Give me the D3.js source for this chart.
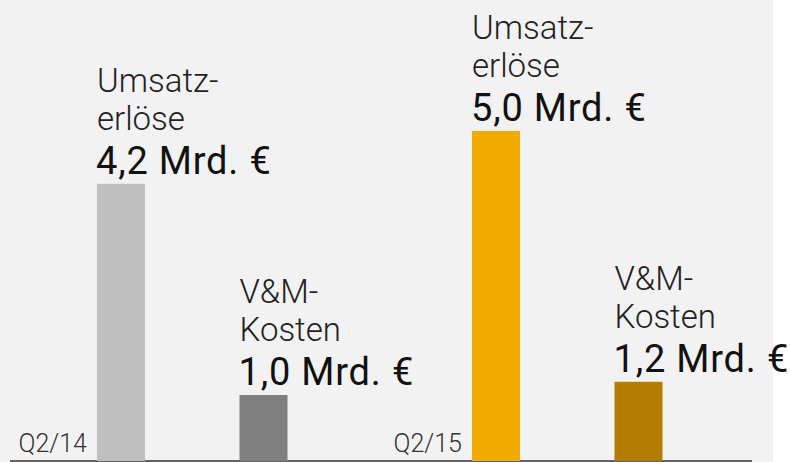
<!doctype html>
<html lang="de">
<head>
<meta charset="utf-8">
<style>
  body { margin: 0; background: #fff; }
  svg { display: block; }
  text { font-family: Roboto, "Open Sans", sans-serif; }
</style>
</head>
<body>
<div id="grafico"></div>
<script src="https://d3js.org/d3.v7.min.js"></script>
<script>

// Daten
var quartale = ["Q2/14", "Q2/15"];
var reihen = ["umsatz", "kosten"];
var beschriftung = [["Umsatz-", "erlöse"], ["V&M-", "Kosten"]];
var umsatz = [4.2, 5.0];
var kosten = [1.0, 1.2];
var farben = [["#bfbfbf", "#808080"], ["#f0aa00", "#b57d00"]];

var w = 790, h = 462;
var basis = 461;

var de = d3.formatLocale({decimal: ",", thousands: ".", grouping: [3], currency: ["", " €"]});
var fmt = de.format(".1f");

var daten = [];
quartale.forEach(function(q, i) {
  daten.push({q: q, reihe: "umsatz", wert: umsatz[i], label: beschriftung[0], farbe: farben[i][0]});
  daten.push({q: q, reihe: "kosten", wert: kosten[i], label: beschriftung[1], farbe: farben[i][1]});
});

var x0 = d3.scaleBand().domain(quartale).range([97, 847]).padding(0);
var x1 = d3.scaleBand().domain(reihen).range([0, 190.5]).paddingInner(0.663).paddingOuter(0);
var y = d3.scaleLinear().domain([0, 5]).range([basis, basis - 330]);

var svg = d3.select("#grafico").append("svg").attr("width", w).attr("height", h);

svg.append("rect").attr("x", 0).attr("y", 0).attr("width", 773).attr("height", h).attr("fill", "#f2f2f2");

// Grundlinie
svg.append("line").attr("x1", 10).attr("x2", 752).attr("y1", basis).attr("y2", basis)
  .attr("stroke", "#333").attr("stroke-width", 1.5);

// Quartal
svg.selectAll("text.quartal").data(quartale).enter().append("text")
  .attr("class", "quartal")
  .attr("x", function(d) { return x0(d) - 10; })
  .attr("y", 452)
  .attr("text-anchor", "end")
  .attr("fill", "#333")
  .style("font-size", "25px").style("font-weight", 300)
  .text(function(d) { return d; });

var gruppe = svg.selectAll("g.balken").data(daten).enter().append("g")
  .attr("class", "balken")
  .attr("transform", function(d) { return "translate(" + (x0(d.q) + x1(d.reihe)) + ",0)"; });

gruppe.append("rect")
  .attr("x", 0)
  .attr("y", function(d) { return y(d.wert); })
  .attr("width", x1.bandwidth())
  .attr("height", function(d) { return basis - y(d.wert); })
  .attr("fill", function(d) { return d.farbe; });

gruppe.append("text")
  .attr("x", -1)
  .attr("y", function(d) { return y(d.wert) - 10; })
  .attr("fill", "#111")
  .style("font-size", "38px").style("font-weight", 400).style("letter-spacing", "0.8px")
  .text(function(d) { return fmt(d.wert) + " Mrd. €"; });

gruppe.append("text")
  .attr("x", 0)
  .attr("y", function(d) { return y(d.wert) - 54; })
  .attr("fill", "#222")
  .style("font-size", "33px").style("font-weight", 300)
  .text(function(d) { return d.label[1]; });

gruppe.append("text")
  .attr("x", 0)
  .attr("y", function(d) { return y(d.wert) - 92; })
  .attr("fill", "#222")
  .style("font-size", "33px").style("font-weight", 300)
  .text(function(d) { return d.label[0]; });

</script>
</body>
</html>
